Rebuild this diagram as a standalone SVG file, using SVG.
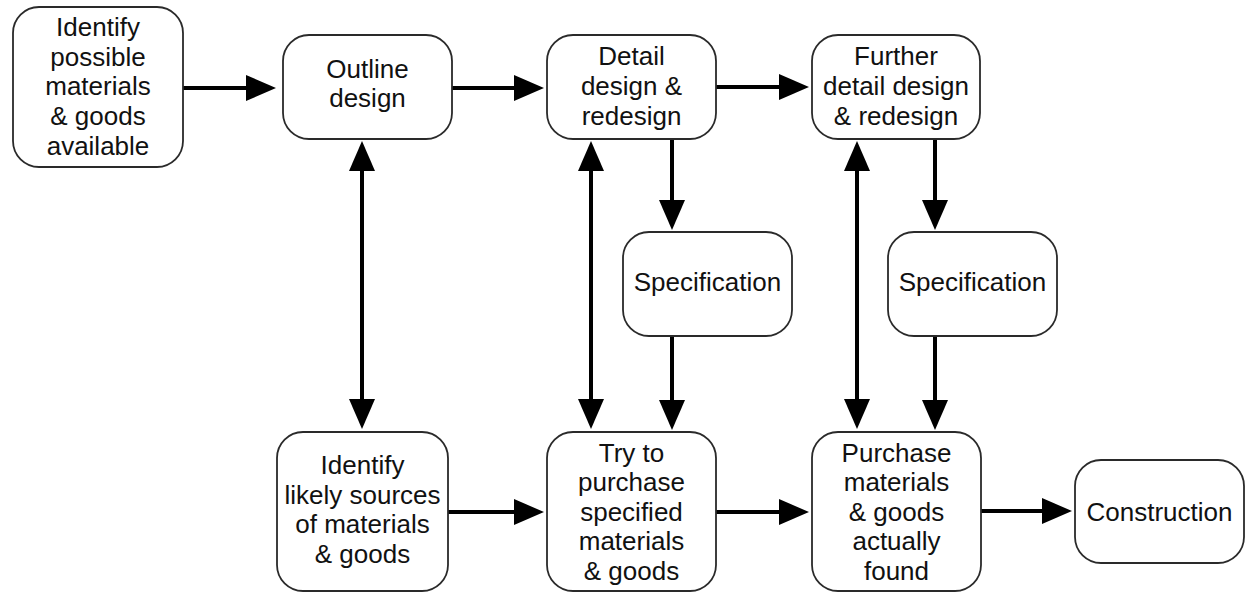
<svg xmlns="http://www.w3.org/2000/svg" width="1254" height="594" viewBox="0 0 1254 594">
  <style>
    .box { fill: #ffffff; stroke: #2a2a2a; stroke-width: 1.8; }
    .lbl { font-family: "Liberation Sans", Arial, sans-serif; font-size: 26px; fill: #111111; text-anchor: middle; }
    .conn { stroke: #000000; stroke-width: 4; fill: none; marker-end: url(#head); }
    .both { marker-start: url(#head); }
  </style>
  <defs>
    <marker id="head" markerUnits="userSpaceOnUse" markerWidth="30" markerHeight="26" viewBox="0 0 30 26" refX="20" refY="13" orient="auto-start-reverse">
      <path d="M0,0 L30,13 L0,26 Z" fill="#000000"/>
    </marker>
  </defs>
  <rect width="1254" height="594" fill="#ffffff"/>

  <!-- connectors -->
  <g id="connectors">
    <line class="conn" x1="183" y1="88" x2="266" y2="88"/>
    <line class="conn" x1="452" y1="88" x2="534" y2="88"/>
    <line class="conn" x1="716" y1="87" x2="799" y2="87"/>
    <line class="conn" x1="448" y1="512" x2="534" y2="512"/>
    <line class="conn" x1="716" y1="512" x2="799" y2="512"/>
    <line class="conn" x1="981" y1="511" x2="1062" y2="511"/>

    <line class="conn both" x1="362" y1="151" x2="362" y2="419"/>
    <line class="conn both" x1="591" y1="151" x2="591" y2="419"/>
    <line class="conn both" x1="857" y1="151" x2="857" y2="419"/>

    <line class="conn" x1="672" y1="139" x2="672" y2="220"/>
    <line class="conn" x1="672" y1="336" x2="672" y2="420"/>
    <line class="conn" x1="935" y1="139" x2="935" y2="220"/>
    <line class="conn" x1="935" y1="336" x2="935" y2="420"/>
  </g>

  <!-- nodes -->
  <g id="identify-possible">
    <rect class="box" x="13" y="7" width="170" height="160" rx="26"/>
    <text class="lbl" x="98" y="36">Identify</text>
    <text class="lbl" x="98" y="66">possible</text>
    <text class="lbl" x="98" y="95">materials</text>
    <text class="lbl" x="98" y="125">&amp; goods</text>
    <text class="lbl" x="98" y="155">available</text>
  </g>

  <g id="outline-design">
    <rect class="box" x="283" y="35" width="169" height="104" rx="26"/>
    <text class="lbl" x="367.5" y="78">Outline</text>
    <text class="lbl" x="367.5" y="107">design</text>
  </g>

  <g id="detail-design">
    <rect class="box" x="547" y="35" width="169" height="104" rx="26"/>
    <text class="lbl" x="631.5" y="65">Detail</text>
    <text class="lbl" x="631.5" y="95">design &amp;</text>
    <text class="lbl" x="631.5" y="125">redesign</text>
  </g>

  <g id="further-detail-design">
    <rect class="box" x="812" y="35" width="168" height="104" rx="26"/>
    <text class="lbl" x="896" y="65">Further</text>
    <text class="lbl" x="896" y="95">detail design</text>
    <text class="lbl" x="896" y="125">&amp; redesign</text>
  </g>

  <g id="specification-1">
    <rect class="box" x="623" y="232" width="169" height="104" rx="26"/>
    <text class="lbl" x="707.5" y="291">Specification</text>
  </g>

  <g id="specification-2">
    <rect class="box" x="888" y="232" width="169" height="104" rx="26"/>
    <text class="lbl" x="972.5" y="291">Specification</text>
  </g>

  <g id="identify-sources">
    <rect class="box" x="277" y="432" width="171" height="159" rx="26"/>
    <text class="lbl" x="362.5" y="474">Identify</text>
    <text class="lbl" x="362.5" y="504">likely sources</text>
    <text class="lbl" x="362.5" y="533">of materials</text>
    <text class="lbl" x="362.5" y="563">&amp; goods</text>
  </g>

  <g id="try-to-purchase">
    <rect class="box" x="547" y="432" width="169" height="159" rx="26"/>
    <text class="lbl" x="631.5" y="462">Try to</text>
    <text class="lbl" x="631.5" y="491">purchase</text>
    <text class="lbl" x="631.5" y="521">specified</text>
    <text class="lbl" x="631.5" y="550">materials</text>
    <text class="lbl" x="631.5" y="580">&amp; goods</text>
  </g>

  <g id="purchase-found">
    <rect class="box" x="812" y="432" width="169" height="159" rx="26"/>
    <text class="lbl" x="896.5" y="462">Purchase</text>
    <text class="lbl" x="896.5" y="491">materials</text>
    <text class="lbl" x="896.5" y="521">&amp; goods</text>
    <text class="lbl" x="896.5" y="550">actually</text>
    <text class="lbl" x="896.5" y="580">found</text>
  </g>

  <g id="construction">
    <rect class="box" x="1075" y="460" width="169" height="103" rx="26"/>
    <text class="lbl" x="1159.5" y="521">Construction</text>
  </g>
</svg>
